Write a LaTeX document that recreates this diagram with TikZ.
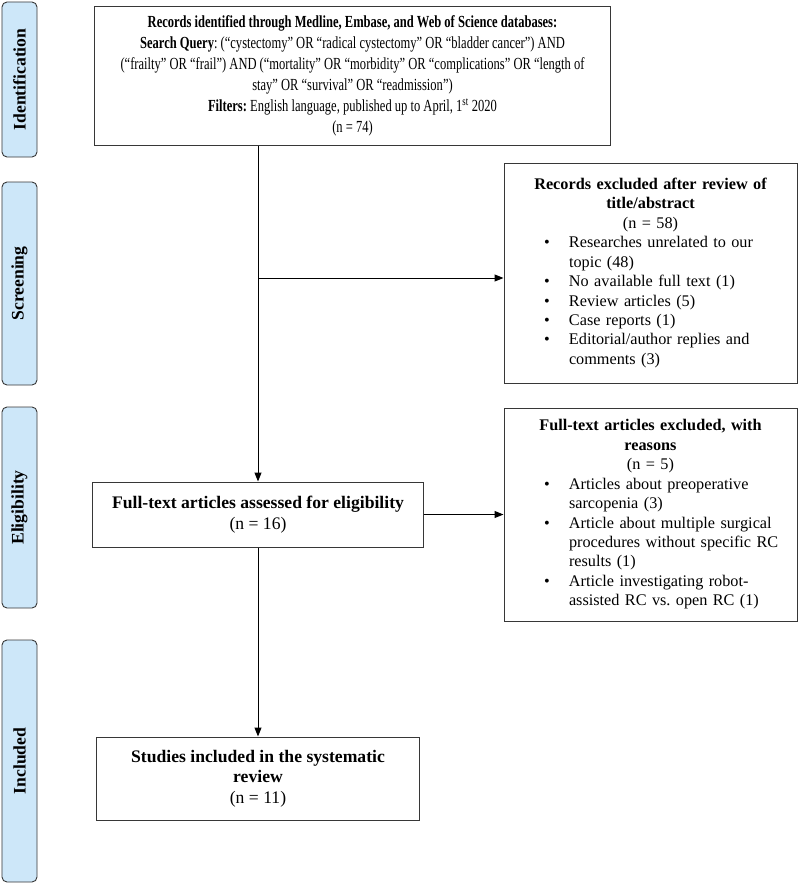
\documentclass[tikz,border=0pt]{standalone}
\usepackage{fontspec}
\setmainfont{Liberation Serif}
\newfontfamily\narrowfont[FakeStretch=0.74]{Liberation Serif}
\usetikzlibrary{arrows.meta,positioning}
\definecolor{phasefill}{RGB}{205,231,249}
\definecolor{edgegray}{RGB}{55,55,55}
\frenchspacing
\newlength\bulletind \setlength\bulletind{55bp}
\newcommand\exitem[1]{\par\hangindent=\bulletind\hangafter=1\noindent\makebox[\bulletind][l]{\hspace{30bp}\textbullet}#1\par}

\begin{document}
\begin{tikzpicture}[x=1bp,y=-1bp,>={Triangle[length=9bp,width=7bp]},
  phase/.style={draw=edgegray,fill=phasefill,rounded corners=5bp,line width=0.9bp,
    minimum width=35bp,inner sep=0pt,font=\fontsize{17.7}{20}\selectfont\bfseries},
  box/.style={draw=edgegray,line width=1bp,align=center,inner sep=0pt,
    font=\fontsize{17.7}{20.5}\selectfont},
  exbox/.style={draw=edgegray,line width=1bp,align=left,text width=273bp,
    inner xsep=10bp,inner ysep=0pt,minimum height=#1,font=\fontsize{16.3}{19.5}\selectfont}]
\useasboundingbox (0,0) rectangle (800,884);
% phases
\node[phase,minimum height=155bp] (ident) at (19.5,79.5) {\rotatebox{90}{Identification}};
\node[phase,minimum height=203bp] (scr) at (19.5,283.5) {\rotatebox{90}{Screening}};
\node[phase,minimum height=201bp] (elg) at (19.5,507.5) {\rotatebox{90}{Eligibility}};
\node[phase,minimum height=242bp] (inc) at (19.5,761) {\rotatebox{90}{Included}};
% boxes
\node[box,minimum width=515bp,minimum height=139bp,font=\fontsize{17}{21}\narrowfont] (records) at (352.5,76)
  {\textbf{Records identified through Medline, Embase, and Web of Science databases:}\\
   \textbf{Search Query}: (“cystectomy” OR “radical cystectomy” OR “bladder cancer”) AND\\
   (“frailty” OR “frail”) AND (“mortality” OR “morbidity” OR “complications” OR “length of\\
   stay” OR “survival” OR “readmission”)\\
   \textbf{Filters:} English language, published up to April, 1\textsuperscript{st} 2020\\
   (n = 74)};
\node[exbox=220bp] (screen) at (650.5,273)
  {{\centering\textbf{Records excluded after review of\\title/abstract}\\(n = 58)\par}
   \exitem{Researches unrelated to our\newline topic (48)}
   \exitem{No available full text (1)}
   \exitem{Review articles (5)}
   \exitem{Case reports (1)}
   \exitem{Editorial/author replies and\newline comments (3)}};
\node[box,minimum width=330bp,minimum height=65bp] (full) at (258,514.5)
  {\textbf{Full-text articles assessed for eligibility}\\(n = 16)};
\node[exbox=213bp] (elig) at (650.5,514.5)
  {{\centering\textbf{Full-text articles excluded, with\\reasons}\\(n = 5)\par}
   \exitem{Articles about preoperative\newline sarcopenia (3)}
   \exitem{Article about multiple surgical\newline procedures without specific RC\newline results (1)}
   \exitem{Article investigating robot-\newline assisted RC vs. open RC (1)}};
\node[box,minimum width=322bp,minimum height=83bp] (incl) at (258,778.5)
  {\textbf{Studies included in the systematic}\\\textbf{review}\\(n = 11)};
% connectors
\coordinate (split) at (258,278);
\draw[->,line width=1bp] (records.south -| full.north) -- (full.north);
\draw[->,line width=1bp] (split) -- (split -| screen.west);
\draw[->,line width=1bp] (full.east) -- (elig.west);
\draw[->,line width=1bp] (full.south) -- (incl.north);
\end{tikzpicture}
\end{document}
